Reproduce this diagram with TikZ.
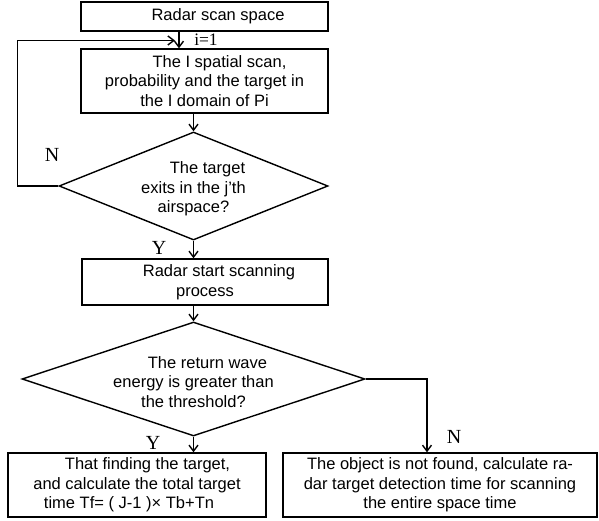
\documentclass[tikz,border=0pt]{standalone}
\usepackage{fontspec}
\setmainfont{Liberation Sans}
\newfontfamily\timesfont{Liberation Serif}
\usetikzlibrary{arrows.meta,shapes.geometric}
\begin{document}
\begin{tikzpicture}[x=1pt,y=-1pt,
  boxnode/.style={draw, line width=1.4pt, inner sep=0pt, align=center, font=\fontsize{16.5}{19.5}\selectfont},
  decnode/.style={draw, diamond, line width=1.4pt, inner sep=0pt},
  dectext/.style={align=center, font=\fontsize{16.5}{19.5}\selectfont, inner sep=0pt},
  lbl/.style={font=\timesfont\fontsize{20}{20}\selectfont, inner sep=0pt},
  conn/.style={line width=1.4pt, -{Straight Barb[length=6pt,width=9pt]}}]
\useasboundingbox (0,0) rectangle (599,521);
\node[boxnode, minimum width=247pt, minimum height=29pt] (b1) at (204.5,16.5) {\hspace*{27pt}Radar scan space};
\node[boxnode, minimum width=247pt, minimum height=64pt] (b2) at (204.5,81) {\hspace*{30pt}The I spatial scan,\\probability and the target in\\the I domain of Pi};
\node[decnode, minimum width=269pt, minimum height=108pt] (d1) at (193.5,186) {};
\node[dectext] (t1) at ([yshift=-3pt]d1.center) {\hspace*{28pt}The target\\exits in the j'th\\airspace?};
\node[boxnode, minimum width=246pt, minimum height=46pt] (b3) at (205,282) {\hspace*{28pt}Radar start scanning\\process};
\node[decnode, minimum width=343pt, minimum height=114pt] (d2) at (193.5,379) {};
\node[dectext] (t2) at ([yshift=-3pt]d2.center) {\hspace*{28pt}The return wave\\energy is greater than\\the threshold?};
\node[boxnode, minimum width=258pt, minimum height=64pt] (b4) at (137,485) {\hspace*{21pt}That finding the target,\\and calculate the total target\\time Tf= ( J-1 )× Tb+Tn\hspace*{16pt}};
\node[boxnode, minimum width=314pt, minimum height=64pt] (b5) at (440,485) {The object is not found, calculate ra-\\dar target detection time for scanning\\the entire space time};
\node[lbl, font=\timesfont\fontsize{17.5}{17.5}\selectfont] (i1) at (206,40) {i=1};
\node[lbl] (n1) at (52,155) {N};
\node[lbl] (y1) at (159,248) {Y};
\node[lbl] (y2) at (153,443) {Y};
\node[lbl] (n2) at (454,437) {N};
\coordinate (loopend) at (175,40.5);
\draw[conn] ([xshift=-25.5pt]b1.south) -- ([xshift=-25.5pt]b2.north);
\draw[conn] (b2.south -| d1.north) -- (d1.north);
\draw[conn] (d1.south) -- (d1.south |- b3.north);
\draw[conn] (b3.south -| d2.north) -- (d2.north);
\draw[conn] (d2.south) -- (d2.south |- b4.north);
\draw[conn] (d2.east) -| ([xshift=-13pt]b5.north);
\draw[conn] (d1.west) -- ++(-41,0) |- (loopend);
\end{tikzpicture}
\end{document}
